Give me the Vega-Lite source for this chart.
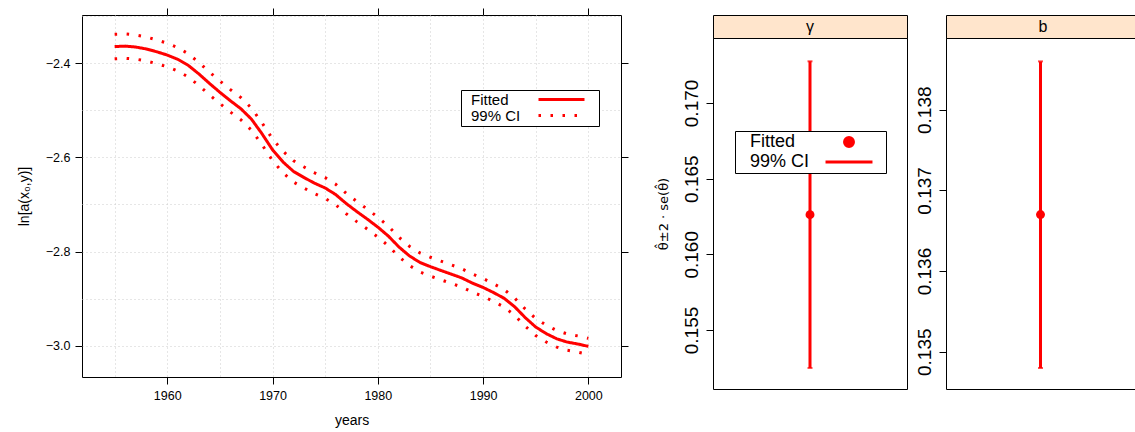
{
  "$schema": "https://vega.github.io/schema/vega-lite/v6.json",
  "padding": {"left": 16, "top": 7, "right": 0, "bottom": 0},
  "bounds": "flush",
  "spacing": 92,
  "resolve": {
    "scale": {"color": "independent", "strokeDash": "independent", "shape": "independent", "size": "independent"},
    "legend": {"color": "independent", "strokeDash": "independent", "shape": "independent", "size": "independent"}
  },
  "config": {
    "font": "Liberation Sans",
    "view": {"stroke": "#000000"},
    "axis": {"tickColor": "#000000", "labelColor": "#000000", "titleColor": "#000000", "titleFontWeight": "normal", "domain": false, "labelFont": "Liberation Sans", "titleFont": "Liberation Sans"},
    "legend": {"labelFont": "Liberation Sans", "labelColor": "#000000"}
  },
  "datasets": {
    "curve": [
      {"year": 1955, "fit": -2.365, "upper": -2.339, "lower": -2.391},
      {"year": 1956, "fit": -2.364, "upper": -2.3382, "lower": -2.3898},
      {"year": 1957, "fit": -2.366, "upper": -2.3404, "lower": -2.3916},
      {"year": 1958, "fit": -2.370, "upper": -2.3446, "lower": -2.3954},
      {"year": 1959, "fit": -2.376, "upper": -2.3508, "lower": -2.4012},
      {"year": 1960, "fit": -2.383, "upper": -2.358, "lower": -2.408},
      {"year": 1961, "fit": -2.392, "upper": -2.3672, "lower": -2.4168},
      {"year": 1962, "fit": -2.405, "upper": -2.3804, "lower": -2.4296},
      {"year": 1963, "fit": -2.423, "upper": -2.3986, "lower": -2.4474},
      {"year": 1964, "fit": -2.443, "upper": -2.4188, "lower": -2.4672},
      {"year": 1965, "fit": -2.462, "upper": -2.438, "lower": -2.486},
      {"year": 1966, "fit": -2.480, "upper": -2.4562, "lower": -2.5038},
      {"year": 1967, "fit": -2.497, "upper": -2.4734, "lower": -2.5206},
      {"year": 1968, "fit": -2.519, "upper": -2.4956, "lower": -2.5424},
      {"year": 1969, "fit": -2.550, "upper": -2.5268, "lower": -2.5732},
      {"year": 1970, "fit": -2.584, "upper": -2.561, "lower": -2.607},
      {"year": 1971, "fit": -2.610, "upper": -2.5872, "lower": -2.6328},
      {"year": 1972, "fit": -2.630, "upper": -2.6074, "lower": -2.6526},
      {"year": 1973, "fit": -2.643, "upper": -2.6206, "lower": -2.6654},
      {"year": 1974, "fit": -2.655, "upper": -2.6328, "lower": -2.6772},
      {"year": 1975, "fit": -2.665, "upper": -2.643, "lower": -2.687},
      {"year": 1976, "fit": -2.679, "upper": -2.6572, "lower": -2.7008},
      {"year": 1977, "fit": -2.698, "upper": -2.6764, "lower": -2.7196},
      {"year": 1978, "fit": -2.715, "upper": -2.6936, "lower": -2.7364},
      {"year": 1979, "fit": -2.731, "upper": -2.7098, "lower": -2.7522},
      {"year": 1980, "fit": -2.748, "upper": -2.727, "lower": -2.769},
      {"year": 1981, "fit": -2.767, "upper": -2.7462, "lower": -2.7878},
      {"year": 1982, "fit": -2.790, "upper": -2.7694, "lower": -2.8106},
      {"year": 1983, "fit": -2.809, "upper": -2.7886, "lower": -2.8294},
      {"year": 1984, "fit": -2.823, "upper": -2.8028, "lower": -2.8432},
      {"year": 1985, "fit": -2.832, "upper": -2.812, "lower": -2.852},
      {"year": 1986, "fit": -2.840, "upper": -2.8202, "lower": -2.8598},
      {"year": 1987, "fit": -2.848, "upper": -2.8284, "lower": -2.8676},
      {"year": 1988, "fit": -2.856, "upper": -2.8366, "lower": -2.8754},
      {"year": 1989, "fit": -2.867, "upper": -2.8478, "lower": -2.8862},
      {"year": 1990, "fit": -2.876, "upper": -2.857, "lower": -2.895},
      {"year": 1991, "fit": -2.887, "upper": -2.8682, "lower": -2.9058},
      {"year": 1992, "fit": -2.899, "upper": -2.8804, "lower": -2.9176},
      {"year": 1993, "fit": -2.917, "upper": -2.8986, "lower": -2.9354},
      {"year": 1994, "fit": -2.940, "upper": -2.9218, "lower": -2.9582},
      {"year": 1995, "fit": -2.960, "upper": -2.942, "lower": -2.978},
      {"year": 1996, "fit": -2.974, "upper": -2.9562, "lower": -2.9918},
      {"year": 1997, "fit": -2.985, "upper": -2.9674, "lower": -3.0026},
      {"year": 1998, "fit": -2.992, "upper": -2.9746, "lower": -3.0094},
      {"year": 1999, "fit": -2.996, "upper": -2.9788, "lower": -3.0132},
      {"year": 2000, "fit": -3.001, "upper": -2.984, "lower": -3.018}
    ],
    "gamma": [{"param": "γ", "est": 0.16262, "lo": 0.15249, "hi": 0.17275}],
    "bpar": [{"param": "b", "est": 0.13670, "lo": 0.134798, "hi": 0.138599}]
  },
  "hconcat": [
    {
      "width": 539,
      "height": 362,
      "data": {"name": "curve"},
      "layer": [
        {
          "mark": {"type": "line", "color": "#ff0000", "strokeWidth": 3},
          "encoding": {
            "x": {"field": "year", "type": "quantitative",
              "scale": {"domain": [1951.9, 2003.1], "nice": false, "zero": false},
              "axis": {"orient": "bottom", "values": [1955, 1960, 1965, 1970, 1975, 1980, 1985, 1990, 1995, 2000], "format": "d",
                "labelExpr": "datum.value % 10 === 0 ? datum.label : ''",
                "tickOpacity": {"condition": {"test": "datum.value % 10 === 0", "value": 1}, "value": 0},
                "tickSize": 7, "labelFontSize": 12.5, "labelPadding": 5,
                "grid": true, "gridDash": [1, 3], "gridColor": "#cccccc", "gridWidth": 1,
                "title": "years", "titleFontSize": 14, "titlePadding": 12}},
            "y": {"field": "fit", "type": "quantitative",
              "scale": {"domain": [-3.066, -2.298], "nice": false, "zero": false},
              "axis": {"orient": "left", "values": [-3.0, -2.9, -2.8, -2.7, -2.6, -2.5, -2.4, -2.3], "format": ".1f",
                "labelExpr": "abs(round(datum.value * 10)) % 2 === 0 ? datum.label : ''",
                "tickOpacity": {"condition": {"test": "abs(round(datum.value * 10)) % 2 === 0", "value": 1}, "value": 0},
                "tickSize": 7, "labelFontSize": 12.5, "labelPadding": 5,
                "grid": true, "gridDash": [1, 3], "gridColor": "#cccccc", "gridWidth": 1,
                "title": "ln[a(x₀,y)]", "titleFontSize": 14, "titlePadding": 14}},
            "strokeDash": {"datum": "Fitted", "type": "nominal",
              "scale": {"domain": ["Fitted", "99% CI"], "range": [[1, 0], [2.5, 9.5]]},
              "legend": {"title": null, "orient": "none", "legendX": 379, "legendY": 75,
                "symbolType": "M-4.6,0H4.6M5.9,0", "symbolSize": 100, "symbolStrokeWidth": 3, "symbolStrokeColor": "#ff0000",
                "labelFontSize": 15, "labelOffset": -98, "symbolOffset": 91, "labelLimit": 300,
                "strokeColor": "#000000", "fillColor": "#ffffff", "padding": 2, "rowPadding": 0}}
          }
        },
        {
          "mark": {"type": "line", "color": "#ff0000", "strokeWidth": 3},
          "encoding": {
            "x": {"field": "year", "type": "quantitative",
              "axis": {"orient": "top", "values": [1960, 1970, 1980, 1990, 2000], "labels": false, "tickSize": 7, "grid": false, "title": null}},
            "y": {"field": "upper", "type": "quantitative",
              "axis": {"orient": "right", "values": [-3.0, -2.8, -2.6, -2.4], "labels": false, "tickSize": 7, "grid": false, "title": null}},
            "strokeDash": {"datum": "99% CI", "type": "nominal"}
          }
        },
        {
          "mark": {"type": "line", "color": "#ff0000", "strokeWidth": 3},
          "encoding": {
            "x": {"field": "year", "type": "quantitative", "axis": null},
            "y": {"field": "lower", "type": "quantitative", "axis": null},
            "strokeDash": {"datum": "99% CI", "type": "nominal"}
          }
        }
      ]
    },
    {
      "bounds": "full",
      "spacing": 6,
      "resolve": {
        "scale": {"color": "independent", "shape": "independent", "size": "independent"},
        "legend": {"color": "independent", "shape": "independent", "size": "independent"}
      },
      "hconcat": [
        {
          "bounds": "flush",
          "spacing": 0,
          "resolve": {
            "scale": {"color": "independent", "shape": "independent", "size": "independent"},
            "legend": {"color": "independent", "shape": "independent", "size": "independent"}
          },
          "vconcat": [
            {
              "width": 194, "height": 23,
              "data": {"values": [{"label": "γ"}]},
              "view": {"fill": "#ffe5cc", "stroke": "#000000"},
              "mark": {"type": "text", "fontSize": 16, "font": "Liberation Sans", "color": "#000000"},
              "encoding": {"text": {"field": "label", "type": "nominal"}}
            },
            {
              "width": 194, "height": 351,
              "data": {"name": "gamma"},
              "layer": [
                {
                  "mark": {"type": "rule", "color": "#ff0000", "strokeWidth": 3},
                  "encoding": {
                    "x": {"datum": 0, "type": "quantitative", "scale": {"domain": [-1, 1]}, "axis": null},
                    "y": {"field": "lo", "type": "quantitative",
                      "scale": {"domain": [0.1511, 0.17429], "nice": false, "zero": false},
                      "axis": {"values": [0.155, 0.16, 0.165, 0.17], "format": ".3f", "labelAngle": 270, "labelFontSize": 19,
                        "tickSize": 7, "labelPadding": 5, "grid": false,
                        "title": "θ̂±2 · se(θ̂)", "titleFont": "DejaVu Sans", "titleFontSize": 13, "titlePadding": 12}},
                    "y2": {"field": "hi"},
                    "color": {"datum": "99% CI", "type": "nominal",
                      "scale": {"domain": ["Fitted", "99% CI"], "range": ["#ff0000", "#ff0000"]},
                      "legend": {"title": null, "orient": "none", "legendX": 22, "legendY": 93,
                        "symbolSize": 80, "symbolStrokeWidth": 3, "symbolStrokeColor": "#ff0000", "symbolFillColor": "#ff0000",
                        "labelFontSize": 18, "labelOffset": -108, "symbolOffset": 103, "labelLimit": 300,
                        "strokeColor": "#000000", "fillColor": "#ffffff", "padding": 2, "rowPadding": 0}}
                  }
                },
                {
                  "mark": {"type": "tick", "color": "#ff0000", "orient": "horizontal", "size": 5, "thickness": 2},
                  "encoding": {
                    "x": {"datum": 0, "type": "quantitative"},
                    "y": {"field": "lo", "type": "quantitative"}
                  }
                },
                {
                  "mark": {"type": "tick", "color": "#ff0000", "orient": "horizontal", "size": 5, "thickness": 2},
                  "encoding": {
                    "x": {"datum": 0, "type": "quantitative"},
                    "y": {"field": "hi", "type": "quantitative"}
                  }
                },
                {
                  "mark": {"type": "point", "filled": true, "opacity": 1, "size": 80},
                  "encoding": {
                    "x": {"datum": 0, "type": "quantitative"},
                    "y": {"field": "est", "type": "quantitative"},
                    "color": {"datum": "Fitted", "type": "nominal"},
                    "shape": {"datum": "Fitted", "type": "nominal", "scale": {"domain": ["Fitted", "99% CI"], "range": ["circle", "M-5.25,0H5.25M6.3,0"]}}
                  }
                }
              ]
            }
          ]
        },
        {
          "bounds": "flush",
          "spacing": 0,
          "vconcat": [
            {
              "width": 189, "height": 23,
              "data": {"values": [{"label": "b"}]},
              "view": {"fill": "#ffe5cc", "stroke": "#000000"},
              "mark": {"type": "text", "fontSize": 16, "font": "Liberation Sans", "color": "#000000", "dx": 2.5},
              "encoding": {"text": {"field": "label", "type": "nominal"}}
            },
            {
              "width": 189, "height": 351,
              "data": {"name": "bpar"},
              "layer": [
                {
                  "mark": {"type": "rule", "color": "#ff0000", "strokeWidth": 3},
                  "encoding": {
                    "x": {"datum": 0, "type": "quantitative", "scale": {"domain": [-1, 0.9485]}, "axis": null},
                    "y": {"field": "lo", "type": "quantitative",
                      "scale": {"domain": [0.134538, 0.138889], "nice": false, "zero": false},
                      "axis": {"values": [0.135, 0.136, 0.137, 0.138], "format": ".3f", "labelAngle": 270, "labelFontSize": 19,
                        "tickSize": 7, "labelPadding": 5, "grid": false, "title": null}},
                    "y2": {"field": "hi"}
                  }
                },
                {
                  "mark": {"type": "tick", "color": "#ff0000", "orient": "horizontal", "size": 5, "thickness": 2},
                  "encoding": {
                    "x": {"datum": 0, "type": "quantitative"},
                    "y": {"field": "lo", "type": "quantitative"}
                  }
                },
                {
                  "mark": {"type": "tick", "color": "#ff0000", "orient": "horizontal", "size": 5, "thickness": 2},
                  "encoding": {
                    "x": {"datum": 0, "type": "quantitative"},
                    "y": {"field": "hi", "type": "quantitative"}
                  }
                },
                {
                  "mark": {"type": "point", "filled": true, "opacity": 1, "color": "#ff0000", "size": 80},
                  "encoding": {
                    "x": {"datum": 0, "type": "quantitative"},
                    "y": {"field": "est", "type": "quantitative"}
                  }
                }
              ]
            }
          ]
        }
      ]
    }
  ]
}
